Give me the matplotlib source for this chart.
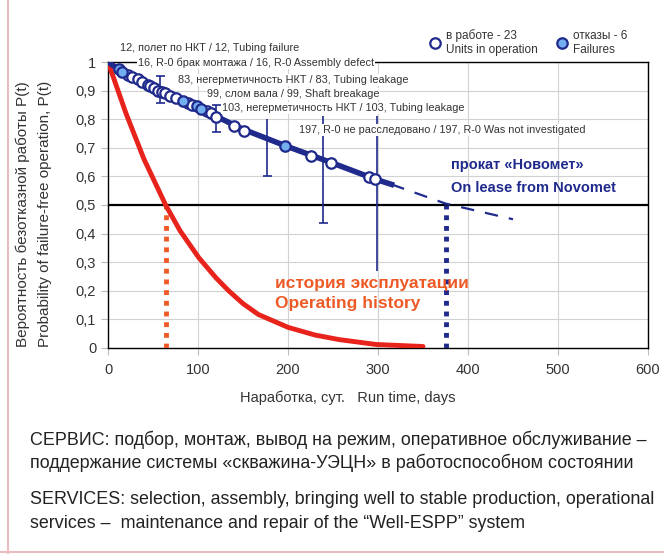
import matplotlib
matplotlib.use('Agg')
import matplotlib.pyplot as plt
from matplotlib.lines import Line2D

plt.rcParams['font.family'] = ['Liberation Sans', 'DejaVu Sans']

# failures (filled circles)
fail_days = [12, 16, 83, 99, 103, 197]
fail_p = [0.975, 0.965, 0.864, 0.845, 0.836, 0.706]

# units still in operation (open circles)
oper_days = [22, 27, 33, 38, 44, 47, 51, 56, 60, 63, 69, 75, 89, 93,
             110, 114, 120, 140, 151, 226, 248, 290, 297]
oper_p = [0.955, 0.948, 0.94, 0.93, 0.92, 0.915, 0.908, 0.90, 0.895, 0.89,
          0.882, 0.874, 0.855, 0.85, 0.83, 0.822, 0.808, 0.777, 0.759,
          0.672, 0.648, 0.598, 0.59]

# fitted reliability (solid) and forecast (dashed)
fit_days = [0, 13, 50, 83, 103, 150, 198, 250, 297, 315]
fit_p = [1.0, 0.972, 0.91, 0.864, 0.836, 0.765, 0.706, 0.646, 0.59, 0.572]
fc_days = [315, 375, 450]
fc_p = [0.572, 0.505, 0.45]

# confidence bars
bar_days = [58, 120, 177, 239, 299]
bar_low = [0.855, 0.755, 0.60, 0.437, 0.27]
bar_high = [0.95, 0.85, 0.80, 0.81, 0.81]

# operating history curve
hist_days = [0, 20, 40, 64, 80, 101, 120, 134, 150, 167, 200, 230, 257, 298, 350]
hist_p = [1.0, 0.82, 0.66, 0.5, 0.41, 0.315, 0.245, 0.2, 0.155, 0.117,
          0.072, 0.045, 0.029, 0.012, 0.005]

t50_hist = 64
t50_novomet = 375

notes = [
    (13, 1.048, '12, полет по НКТ / 12, Tubing failure'),
    (33, 0.997, '16, R-0 брак монтажа / 16, R-0 Assembly defect'),
    (78, 0.937, '83, негерметичность НКТ / 83, Tubing leakage'),
    (110, 0.888, '99, слом вала / 99, Shaft breakage'),
    (127, 0.840, '103, негерметичность НКТ / 103, Tubing leakage'),
    (212, 0.762, '197, R-0 не расследовано / 197, R-0 Was not investigated'),
]

navy = '#1f2a8c'
red = '#e8231c'
orange = '#ee5a26'
txt = '#333333'

fig = plt.figure(figsize=(6.64, 5.54), dpi=100)
ax = fig.add_axes([0.1627, 0.372, 0.8132, 0.516])

ax.set_xlim(0, 600)
ax.set_ylim(0, 1)
ax.set_xticks(range(0, 601, 100))
ax.set_yticks([i / 10 for i in range(11)])
ax.set_yticklabels(['0'] + ['0,%d' % i for i in range(1, 10)] + ['1'])
ax.grid(True, color='#d2d2d2', lw=0.8)
ax.set_axisbelow(True)
ax.tick_params(colors='#bbbbbb', labelcolor=txt, labelsize=10.5, length=5)
ax.tick_params(axis='x', pad=6)
for s in ax.spines.values():
    s.set_color('black')
    s.set_linewidth(1.0)

ax.axhline(0.5, color='black', lw=1.6, zorder=2)

# history
ax.plot(hist_days, hist_p, color=red, lw=3.5, solid_capstyle='round', zorder=4)
ax.plot([t50_hist, t50_hist], [0, 0.5], color=orange, lw=3.5, ls=(0, (1, 1.2)), zorder=3)

# novomet
ax.plot([t50_novomet, t50_novomet], [0, 0.5], color=navy, lw=3.5, ls=(0, (1, 1.2)), zorder=3)
ax.plot(fc_days, fc_p, color=navy, lw=1.6, ls=(0, (6, 5)), zorder=3)
ax.plot(fit_days, fit_p, color=navy, lw=4, zorder=4)

ax.vlines(bar_days, bar_low, bar_high, color=navy, lw=1.2, zorder=3)
ax.hlines(bar_low[:4], [d - 5 for d in bar_days[:4]], [d + 5 for d in bar_days[:4]],
          color=navy, lw=1.2, zorder=3)
ax.hlines(bar_high[:2], [d - 5 for d in bar_days[:2]], [d + 5 for d in bar_days[:2]],
          color=navy, lw=1.2, zorder=3)

ax.plot(oper_days, oper_p, 'o', ms=7.5, mfc='white', mec=navy, mew=1.6, ls='none', zorder=5,
        label='в работе - 23\nUnits in operation')
ax.plot(fail_days, fail_p, 'o', ms=7.5, mfc='#72aef0', mec=navy, mew=1.6, ls='none', zorder=5,
        label='отказы - 6\nFailures')

for x, y, s in notes:
    ax.text(x, y, s, fontsize=7.8, color=txt, va='center', ha='left', zorder=6, clip_on=False,
            bbox=dict(facecolor='white', edgecolor='none', pad=0.6))

ax.text(381, 0.64, 'прокат «Новомет»', color=navy, fontsize=10.5,
        fontweight='bold', va='center', ha='left', zorder=6)
ax.text(381, 0.559, 'On lease from Novomet', color=navy, fontsize=10.5,
        fontweight='bold', va='center', ha='left', zorder=6)
ax.text(186, 0.224, 'история эксплуатации', color=orange, fontsize=12.5,
        fontweight='bold', va='center', ha='left', zorder=6)
ax.text(186, 0.154, 'Operating history', color=orange, fontsize=12.5,
        fontweight='bold', va='center', ha='left', zorder=6)

leg = ax.legend(loc='lower right', bbox_to_anchor=(632 / 664, 1 - 61 / 554),
                bbox_transform=fig.transFigure, ncol=2, frameon=False,
                fontsize=8.5, handlelength=1.0, handletextpad=0.4, columnspacing=1.6,
                borderaxespad=0, labelcolor=txt)

fig.text(348 / 664, 1 - 398 / 554, 'Наработка, сут.   Run time, days', fontsize=10.5,
         color=txt, ha='center', va='center')
fig.text(23 / 664, 0.614, 'Вероятность безотказной работы P(t)', rotation=90,
         fontsize=11, color=txt, ha='center', va='center')
fig.text(45 / 664, 0.614, 'Probability of failure-free operation, P(t)', rotation=90,
         fontsize=11, color=txt, ha='center', va='center')

bottom_lines = [
    (440, 'СЕРВИС: подбор, монтаж, вывод на режим, оперативное обслуживание –'),
    (463, 'поддержание системы «скважина-УЭЦН» в работоспособном состоянии'),
    (500, 'SERVICES: selection, assembly, bringing well to stable production, operational'),
    (523, 'services –  maintenance and repair of the “Well-ESPP” system'),
]
for py, s in bottom_lines:
    fig.text(30 / 664, 1 - py / 554, s, fontsize=12.9, color='#222222', va='center', ha='left')

fig.add_artist(Line2D([0.012, 0.012], [0, 1], color='#e8bcc0', lw=1.5))
fig.add_artist(Line2D([0, 1], [0.004, 0.004], color='#e8bcc0', lw=1.5))

fig.savefig('out.png', dpi=100)
